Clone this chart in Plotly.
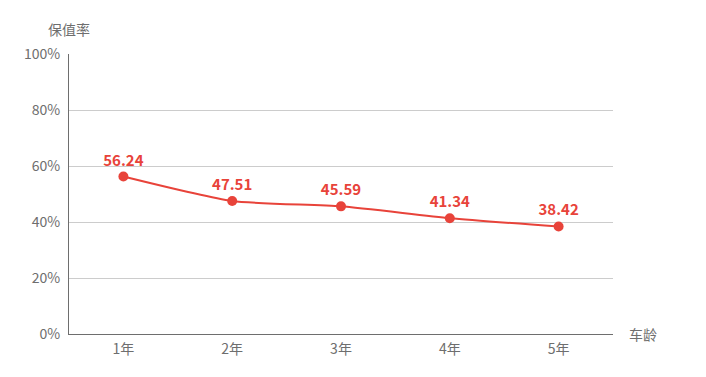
import plotly.graph_objects as go

categories = ["1年", "2年", "3年", "4年", "5年"]
values = [56.24, 47.51, 45.59, 41.34, 38.42]
y_ticks = [0, 20, 40, 60, 80, 100]
y_tick_labels = ["0%", "20%", "40%", "60%", "80%", "100%"]

red = "#e8433a"
font_family = "Noto Sans CJK SC, Microsoft YaHei, sans-serif"

fig = go.Figure()
fig.add_trace(go.Scatter(
    x=categories, y=values,
    mode="lines+markers+text",
    line=dict(color=red, width=2, shape="spline", smoothing=0.6),
    marker=dict(color=red, size=10),
    text=[f"{v:.2f}" for v in values],
    textposition="top center",
    textfont=dict(color=red, size=15, family=font_family, weight="bold"),
    cliponaxis=False,
    hoverinfo="x+y",
))

fig.update_layout(
    width=706, height=377,
    margin=dict(l=61, r=101, t=46, b=51),
    paper_bgcolor="white", plot_bgcolor="white",
    showlegend=False,
    font=dict(family=font_family, color="#6e6e6e", size=14),
    xaxis=dict(
        type="category", range=[-0.5, 4.5],
        showgrid=False, showline=True, linecolor="#6e6e6e", linewidth=1,
        ticks="", tickfont=dict(size=14, color="#6e6e6e"),
        ticklabelstandoff=2,
        zeroline=False, fixedrange=True,
    ),
    yaxis=dict(
        range=[0, 100], tickvals=y_ticks, ticktext=y_tick_labels,
        showgrid=True, gridcolor="#cccccc", gridwidth=1,
        showline=True, linecolor="#6e6e6e", linewidth=1,
        ticks="", tickfont=dict(size=14, color="#6e6e6e"),
        ticklabelstandoff=5,
        zeroline=False, fixedrange=True,
    ),
    annotations=[
        dict(text="保值率", xref="paper", yref="paper", x=0, y=1,
             xanchor="center", yanchor="bottom", yshift=13, showarrow=False,
             font=dict(size=14, color="#6e6e6e")),
        dict(text="车龄", xref="paper", yref="paper", x=1, y=0,
             xanchor="left", yanchor="middle", xshift=14, showarrow=False,
             font=dict(size=14, color="#6e6e6e")),
    ],
)

fig.write_html("out.html")
